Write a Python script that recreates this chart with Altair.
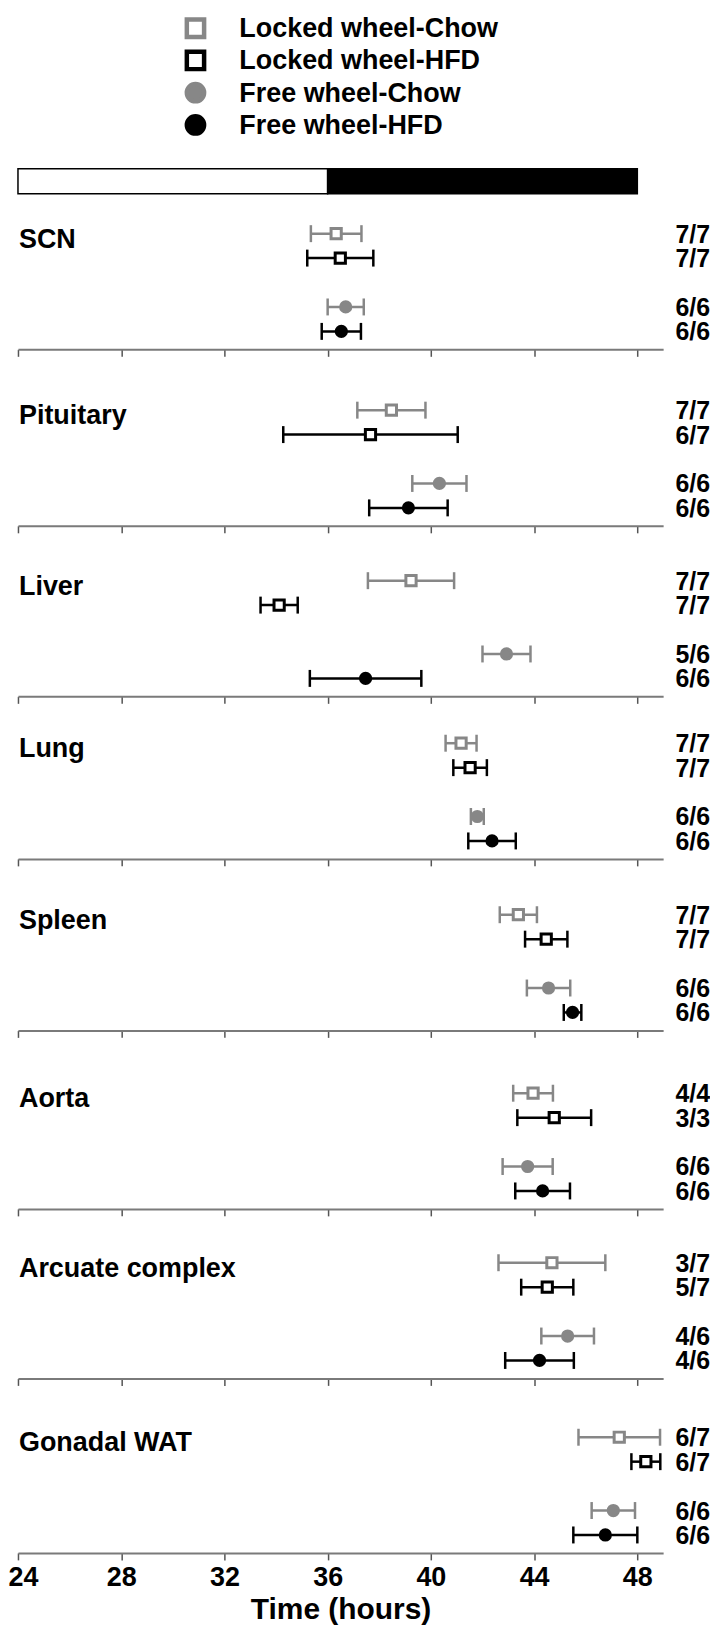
import altair as alt
import pandas as pd

# ---------------- data ----------------
tissues = ["SCN", "Pituitary", "Liver", "Lung", "Spleen", "Aorta",
           "Arcuate complex", "Gonadal WAT"]
groups = ["Locked wheel-Chow", "Locked wheel-HFD", "Free wheel-Chow", "Free wheel-HFD"]

# peak phase (hours) and SEM, one value per tissue
mean_lw_chow = [36.33, 38.47, 39.23, 41.17, 43.39, 43.96, 44.69, 47.30]
sem_lw_chow = [0.98, 1.32, 1.67, 0.60, 0.72, 0.77, 2.07, 1.58]
mean_lw_hfd = [36.49, 37.66, 34.12, 41.52, 44.47, 44.78, 44.51, 48.33]
sem_lw_hfd = [1.28, 3.38, 0.72, 0.65, 0.82, 1.43, 1.01, 0.56]
mean_fw_chow = [36.70, 40.33, 42.93, 41.80, 44.56, 43.75, 45.30, 47.07]
sem_fw_chow = [0.70, 1.05, 0.93, 0.25, 0.84, 0.97, 1.02, 0.84]
mean_fw_hfd = [36.53, 39.13, 37.47, 42.37, 45.49, 44.33, 44.21, 46.76]
sem_fw_hfd = [0.76, 1.52, 2.16, 0.92, 0.34, 1.06, 1.33, 1.24]

n_lw_chow = ["7/7", "7/7", "7/7", "7/7", "7/7", "4/4", "3/7", "6/7"]
n_lw_hfd = ["7/7", "6/7", "7/7", "7/7", "7/7", "3/3", "5/7", "6/7"]
n_fw_chow = ["6/6", "6/6", "5/6", "6/6", "6/6", "6/6", "4/6", "6/6"]
n_fw_hfd = ["6/6", "6/6", "6/6", "6/6", "6/6", "6/6", "4/6", "6/6"]

phase_names = ["light", "dark"]
phase_start = [24, 36]
phase_end = [36, 48]

x_ticks = [24, 28, 32, 36, 40, 44, 48]
x_domain = [24, 49]

# ---------------- build tables ----------------
means = [mean_lw_chow, mean_lw_hfd, mean_fw_chow, mean_fw_hfd]
sems = [sem_lw_chow, sem_lw_hfd, sem_fw_chow, sem_fw_hfd]
ns = [n_lw_chow, n_lw_hfd, n_fw_chow, n_fw_hfd]
rows = []
for ti, t in enumerate(tissues):
    for g, m, s, n in zip(groups, means, sems, ns):
        rows.append(dict(tissue=t, group=g, mean=m[ti],
                         lo=m[ti] - s[ti], hi=m[ti] + s[ti], n=n[ti]))
df = pd.DataFrame(rows)
bar_df = pd.DataFrame({"phase": phase_names, "start": phase_start, "end": phase_end})
leg_df = pd.DataFrame({"group": groups})

# ---------------- styling ----------------
GREY = "#878787"
BLACK = "#000000"
FONT = "Liberation Sans"
W = 647
panel_heights = [156, 177, 171, 163, 172, 179, 170, 175]
y_domain = [groups[0], groups[1], "gap", groups[2], groups[3]]

color_scale = alt.Scale(domain=groups, range=[GREY, BLACK, GREY, BLACK])
fill_scale = alt.Scale(domain=groups, range=["white", "white", GREY, BLACK])
shape_scale = alt.Scale(domain=groups, range=["square", "square", "circle", "circle"])
xscale = alt.Scale(domain=x_domain, nice=False, zero=False)


def panel(t, h, last):
    d = df[df.tissue == t]
    y = alt.Y("group:N", axis=None,
              scale=alt.Scale(type="point", domain=y_domain,
                              range=[h - 116, h - 18], padding=0))
    if last:
        xax = alt.Axis(values=x_ticks, title="Time (hours)", labels=True)
    else:
        xax = alt.Axis(values=x_ticks, title="", labels=False)
    base = alt.Chart(d)
    col = alt.Color("group:N", scale=color_scale, legend=None)
    rule = base.mark_rule(strokeWidth=2.5).encode(
        x=alt.X("lo:Q", scale=xscale, axis=xax), x2="hi:Q", y=y, color=col)
    cap_lo = base.mark_tick(size=17, thickness=2.5, opacity=1).encode(
        x=alt.X("lo:Q", scale=xscale), y=y, color=col)
    cap_hi = base.mark_tick(size=17, thickness=2.5, opacity=1).encode(
        x=alt.X("hi:Q", scale=xscale), y=y, color=col)
    pts = base.mark_point(strokeWidth=3, opacity=1, fillOpacity=1).encode(
        x=alt.X("mean:Q", scale=xscale), y=y,
        shape=alt.Shape("group:N", scale=shape_scale, legend=None),
        fill=alt.Fill("group:N", scale=fill_scale, legend=None),
        stroke=alt.Stroke("group:N", scale=color_scale, legend=None),
        size=alt.Size("group:N", scale=alt.Scale(domain=groups, range=[105, 105, 215, 215]),
                      legend=None))
    ntext = base.mark_text(align="right", baseline="middle", dy=1, fontSize=25,
                           fontWeight="bold", font=FONT, color="black").encode(
        x=alt.value(694), y=y, text="n:N")
    lab_df = pd.DataFrame({"tissue": [t], "group": [groups[0]]})
    lab = alt.Chart(lab_df).mark_text(align="left", baseline="middle", dy=6, fontSize=27,
                                      fontWeight="bold", font=FONT, color="black").encode(
        x=alt.value(1), y=y, text="tissue:N")
    return alt.layer(rule, cap_lo, cap_hi, pts, ntext, lab).properties(width=W, height=h)


# legend at the top
ly = alt.Y("group:N", axis=None,
           scale=alt.Scale(type="point", domain=groups, range=[13, 110], padding=0))
leg_pts = alt.Chart(leg_df).mark_point(strokeWidth=4.5, opacity=1, fillOpacity=1).encode(
    x=alt.value(178), y=ly,
    shape=alt.Shape("group:N", scale=shape_scale, legend=None),
    fill=alt.Fill("group:N", scale=fill_scale, legend=None),
    stroke=alt.Stroke("group:N", scale=color_scale, legend=None),
    size=alt.Size("group:N", scale=alt.Scale(domain=groups, range=[300, 300, 420, 420]),
                  legend=None))
leg_txt = alt.Chart(leg_df).mark_text(align="left", baseline="middle", dy=1, fontSize=27,
                                      fontWeight="bold", font=FONT, color="black").encode(
    x=alt.value(222), y=ly, text="group:N")
legend = alt.layer(leg_pts, leg_txt).properties(width=W, height=154)

# light/dark bar
bar = alt.Chart(bar_df).mark_rect(stroke="black", strokeWidth=1.5).encode(
    x=alt.X("start:Q", scale=xscale, axis=None), x2="end:Q",
    y=alt.value(0), y2=alt.value(25),
    fill=alt.Fill("phase:N", scale=alt.Scale(domain=phase_names, range=["white", "black"]),
                  legend=None)
).properties(width=W, height=25)

panels = [panel(t, h, i == len(tissues) - 1)
          for i, (t, h) in enumerate(zip(tissues, panel_heights))]

chart = alt.vconcat(legend, bar, *panels, spacing=0, bounds="flush").resolve_scale(
    color="independent", fill="independent", stroke="independent",
    shape="independent", size="independent"
).properties(
    padding={"left": 0, "top": 0, "right": 0, "bottom": 0}
).configure_view(stroke=None).configure_axis(
    grid=False, domainColor="#7a7a7a", domainWidth=2, tickColor="#555555",
    tickWidth=1.5, tickSize=7, labelFont=FONT, labelFontSize=27,
    labelFontWeight="bold", labelColor="black", labelPadding=5,
    labelFlush=True, labelFlushOffset=10,
    titleFont=FONT, titleFontSize=30, titleFontWeight="bold", titleColor="black",
    titlePadding=4
)

chart.save("out.html", embed_options={"renderer": "svg", "actions": False})
